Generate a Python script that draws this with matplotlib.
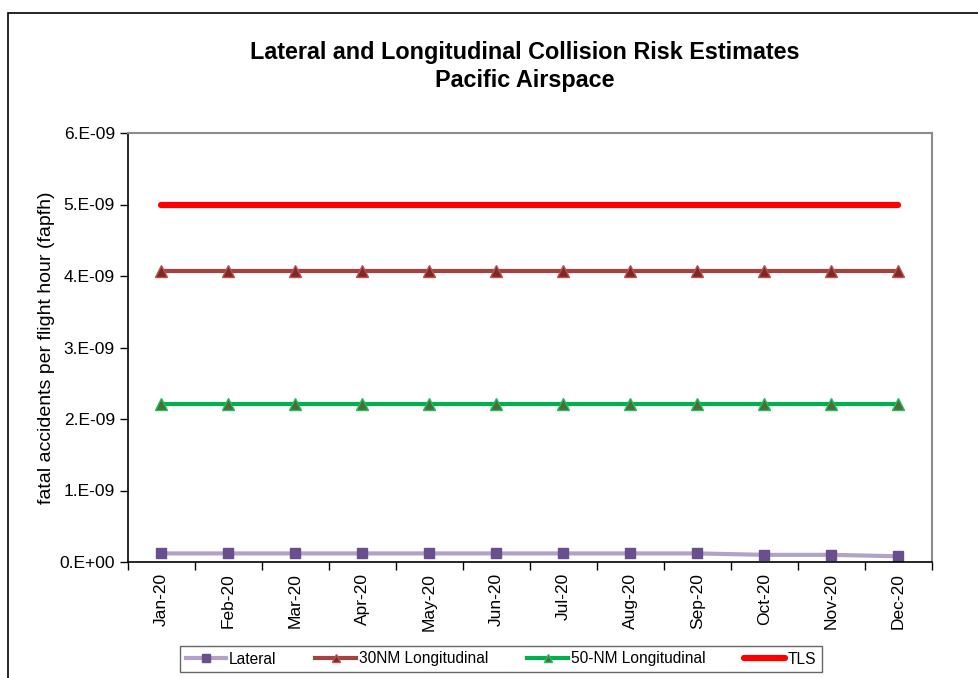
import matplotlib.pyplot as plt
from matplotlib.patches import Rectangle
from matplotlib.ticker import FuncFormatter, FixedLocator
import numpy as np

plt.rcParams['font.family'] = ['Liberation Sans', 'DejaVu Sans']

months = ['Jan-20', 'Feb-20', 'Mar-20', 'Apr-20', 'May-20', 'Jun-20',
          'Jul-20', 'Aug-20', 'Sep-20', 'Oct-20', 'Nov-20', 'Dec-20']
lateral = [1.2e-10, 1.2e-10, 1.2e-10, 1.2e-10, 1.2e-10, 1.2e-10,
           1.2e-10, 1.2e-10, 1.2e-10, 1.0e-10, 1.0e-10, 0.8e-10]
long_30nm = [4.07e-9] * 12
long_50nm = [2.21e-9] * 12
tls = [5.0e-9] * 12

fig = plt.figure(figsize=(9.79, 6.78), dpi=100)
# chart border
fig.patches.append(Rectangle((8 / 979, -0.01), 1.0, 1 - 13 / 678 + 0.01,
                             transform=fig.transFigure, fill=False,
                             edgecolor='black', linewidth=1.2))

ax = fig.add_axes([128 / 979, 1 - 562 / 678, (932 - 128) / 979, (562 - 133) / 678])
x = np.arange(len(months))

ax.plot(x, lateral, color='#b3a2c7', linewidth=3, marker='s', markersize=7.5,
        markerfacecolor='#6a4f8f', markeredgecolor='#6a4f8f', label='Lateral')
ax.plot(x, long_30nm, color='#a5423f', linewidth=3, marker='^', markersize=8,
        markerfacecolor='#7a2a28', markeredgecolor='#c0504d', label='30NM Longitudinal')
ax.plot(x, long_50nm, color='#00b050', linewidth=3, marker='^', markersize=8,
        markerfacecolor='#4e6b3a', markeredgecolor='#1fbf5a', label='50-NM Longitudinal')
ax.plot(x, tls, color='#ff0000', linewidth=4.5, solid_capstyle='round', label='TLS')

ax.set_xlim(-0.5, 11.5)
ax.set_ylim(0, 6e-9)
ax.set_yticks(np.arange(0, 7) * 1e-9)

def sci_fmt(v, pos):
    if v == 0:
        return '0.E+00'
    e = int(np.floor(np.log10(abs(v)) + 1e-9))
    return '%d.E-%02d' % (round(v / 10 ** e), -e)

ax.yaxis.set_major_formatter(FuncFormatter(sci_fmt))
ax.set_xticks(x)
ax.set_xticklabels(months, rotation=90, fontsize=12.5)
ax.tick_params(axis='x', length=0, pad=8)
ax.xaxis.set_minor_locator(FixedLocator(np.arange(-0.5, 12, 1)))
ax.tick_params(axis='x', which='minor', length=6, direction='out', width=1)
ax.tick_params(axis='y', labelsize=12.5, length=6, direction='out', width=1)

for s in ['top', 'right']:
    ax.spines[s].set_color('#8c8c8c')
    ax.spines[s].set_linewidth(1.5)
for s in ['left', 'bottom']:
    ax.spines[s].set_color('black')
    ax.spines[s].set_linewidth(1.2)

ax.set_ylabel('fatal accidents per flight hour (fapfh)', fontsize=14, labelpad=3)

fig.text(525 / 979, 1 - 52 / 678, 'Lateral and Longitudinal Collision Risk Estimates',
         ha='center', va='center', fontsize=16.8, fontweight='bold')
fig.text(525 / 979, 1 - 80 / 678, 'Pacific Airspace',
         ha='center', va='center', fontsize=16.8, fontweight='bold')

leg = fig.legend(loc='center', bbox_to_anchor=(501 / 979, 1 - 659 / 678), ncol=4,
                 fontsize=11.2, frameon=True, fancybox=False, edgecolor='#404040',
                 handlelength=2.6, handletextpad=0.2, columnspacing=2.5,
                 borderpad=0.35, markerscale=0.75)
leg.get_frame().set_linewidth(1.0)

fig.savefig('out.png', dpi=100)
